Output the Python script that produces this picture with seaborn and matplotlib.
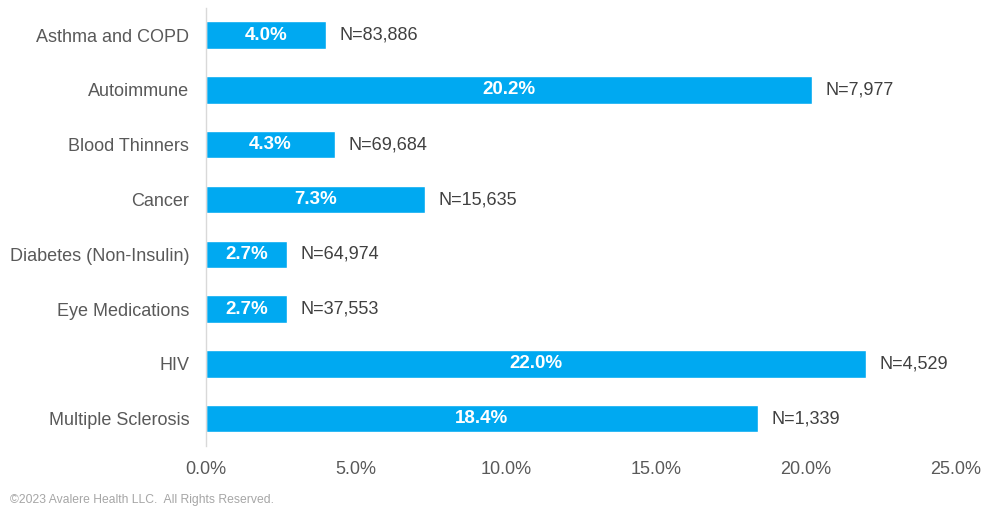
import matplotlib
matplotlib.use("Agg")
import matplotlib.pyplot as plt
import seaborn as sns
import pandas as pd
from matplotlib.ticker import FuncFormatter

# Data
categories = [
    "Asthma and COPD",
    "Autoimmune",
    "Blood Thinners",
    "Cancer",
    "Diabetes (Non-Insulin)",
    "Eye Medications",
    "HIV",
    "Multiple Sclerosis",
]
pct_values = [4.0, 20.2, 4.3, 7.3, 2.7, 2.7, 22.0, 18.4]
n_labels = ["83,886", "7,977", "69,684", "15,635", "64,974", "37,553", "4,529", "1,339"]
x_ticks = [0, 5, 10, 15, 20, 25]

BAR_COLOR = "#00A9F1"
TEXT_GRAY = "#595959"

sns.set_theme(style="white")
plt.rcParams["font.family"] = ["Liberation Sans", "DejaVu Sans"]

df = pd.DataFrame({"category": categories, "pct": pct_values, "n": n_labels})

fig = plt.figure(figsize=(10, 5.2), dpi=100)
ax = fig.add_axes([0.206, 0.142, 0.75, 0.843])

sns.barplot(data=df, x="pct", y="category", color=BAR_COLOR, width=0.5,
            saturation=1, ax=ax, orient="h")

ax.set_xlim(0, 25)
ax.set_ylim(len(categories) - 0.5, -0.5)
ax.set_xticks(x_ticks)
ax.xaxis.set_major_formatter(FuncFormatter(lambda v, _: f"{v:.1f}%"))
ax.set_xlabel("")
ax.set_ylabel("")
ax.tick_params(axis="both", length=0, labelsize=13, colors=TEXT_GRAY)
ax.tick_params(axis="x", pad=11)
ax.tick_params(axis="y", pad=12)

for side in ["top", "right", "bottom"]:
    ax.spines[side].set_visible(False)
ax.spines["left"].set_color("#d9d9d9")
ax.spines["left"].set_linewidth(1)

# value labels inside bars and N labels after the bar end
for i, row in df.iterrows():
    ax.text(row["pct"] / 2, i, f"{row['pct']:.1f}%", ha="center", va="center",
            color="white", fontsize=13.5, fontweight="bold")
    ax.annotate(f"N={row['n']}", xy=(row["pct"], i), xytext=(10, 0),
                textcoords="offset points", ha="left", va="center",
                fontsize=13, color="#404040")

fig.text(0.01, 0.038, "\u00a92023 Avalere Health LLC.  All Rights Reserved.",
         fontsize=8.7, color="#a6a6a6", ha="left", va="center")

fig.savefig("out.png", dpi=100)
plt.close(fig)
